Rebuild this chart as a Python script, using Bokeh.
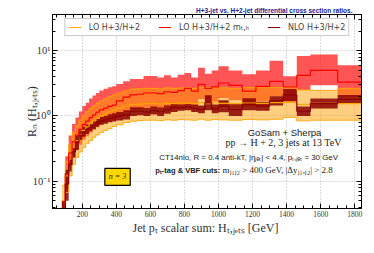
from bokeh.plotting import figure
from bokeh.models import FixedTicker, LinearAxis, LogAxis, Label, Legend, LegendItem
from bokeh.embed import file_html
from bokeh.resources import INLINE

# ---------------- data ----------------
edges = [80, 100, 120, 140, 160, 180, 200, 220, 240, 260, 280, 300, 325, 350, 375, 400,
         440, 480, 520, 560, 600, 640, 680, 720, 760, 800, 840, 880, 920, 960, 1000,
         1060, 1140, 1220, 1300, 1380, 1460, 1540, 1700, 1840]

# LO H+3/H+2
lo_lo = [0.028, 0.067, 0.12, 0.18, 0.23, 0.28, 0.33, 0.38, 0.42, 0.47, 0.51, 0.56, 0.6, 0.64, 0.69,
         0.73, 0.79, 0.83, 0.85, 0.86, 0.86, 0.85, 0.87, 0.86, 0.88, 0.87, 0.86, 0.89, 0.86, 0.88,
         0.87, 0.86, 0.88, 0.87, 0.89, 0.95, 0.84, 0.86, 0.86]
lo_c = [0.05, 0.12, 0.22, 0.33, 0.42, 0.51, 0.6, 0.68, 0.76, 0.84, 0.92, 1.0, 1.08, 1.16, 1.24,
        1.32, 1.42, 1.5, 1.52, 1.55, 1.55, 1.52, 1.56, 1.55, 1.58, 1.56, 1.55, 1.6, 1.55, 1.58,
        1.56, 1.55, 1.58, 1.56, 1.6, 1.62, 1.5, 1.56, 1.55]
lo_hi = [0.085, 0.2, 0.37, 0.56, 0.71, 0.87, 1.02, 1.16, 1.29, 1.43, 1.56, 1.7, 1.84, 1.97, 2.1,
         2.25, 2.42, 2.6, 2.62, 2.65, 2.65, 2.6, 2.7, 2.65, 2.7, 2.7, 2.65, 2.75, 2.7, 2.72,
         2.7, 2.65, 2.72, 2.7, 2.75, 2.75, 2.5, 2.47, 2.65]

# LO H+3/H+2 with m_T,h scale
mt_lo = [0.018, 0.075, 0.16, 0.23, 0.3, 0.36, 0.43, 0.49, 0.55, 0.61, 0.67, 0.73, 0.78, 0.82, 0.86,
         1.0, 1.15, 1.24, 1.26, 1.32, 1.32, 1.3, 1.38, 1.35, 1.44, 1.56, 1.41, 1.8, 1.56, 1.65,
         1.88, 1.74, 1.41, 1.68, 2.0, 1.64, 2.5, 2.95, 1.95]
mt_c = [0.03, 0.13, 0.27, 0.4, 0.51, 0.62, 0.74, 0.83, 0.94, 1.04, 1.14, 1.24, 1.32, 1.4, 1.47,
        1.7, 1.95, 2.1, 2.15, 2.25, 2.25, 2.2, 2.35, 2.3, 2.45, 2.65, 2.4, 3.06, 2.65, 2.8,
        3.2, 2.95, 2.4, 2.85, 3.4, 2.78, 4.2, 5.0, 3.3]
mt_hi = [0.05, 0.24, 0.5, 0.75, 0.95, 1.17, 1.42, 1.6, 1.85, 2.05, 2.25, 2.45, 2.62, 2.75, 2.85,
         3.1, 3.4, 3.7, 3.7, 4.1, 4.1, 3.9, 4.2, 3.9, 4.3, 4.55, 3.9, 5.5, 4.45, 5.0,
         5.8, 5.0, 4.35, 5.0, 7.0, 4.05, 8.3, 8.8, 6.0]

# NLO H+3/H+2
nlo_lo = [0.025, 0.05, 0.14, 0.23, 0.3, 0.43, 0.48, 0.53, 0.58, 0.63, 0.68, 0.73, 0.76, 0.8, 0.82,
          0.85, 0.88, 1.0, 1.02, 1.0, 1.05, 1.0, 1.08, 1.15, 1.2, 1.22, 1.15, 1.1, 1.22, 1.1,
          1.14, 1.0, 1.22, 1.2, 1.45, 1.7, 1.0, 1.3, 1.55]
nlo_c = [0.035, 0.09, 0.18, 0.28, 0.39, 0.5, 0.57, 0.62, 0.67, 0.72, 0.78, 0.83, 0.87, 0.92, 0.95,
         0.99, 1.04, 1.17, 1.18, 1.15, 1.21, 1.16, 1.25, 1.34, 1.34, 1.38, 1.31, 1.26, 1.59, 1.28,
         1.41, 1.25, 1.51, 1.41, 1.7, 2.1, 1.18, 1.55, 1.8]
nlo_hi = [0.05, 0.15, 0.23, 0.33, 0.5, 0.6, 0.68, 0.74, 0.78, 0.84, 0.9, 0.96, 1.0, 1.06, 1.1,
          1.15, 1.22, 1.36, 1.36, 1.32, 1.4, 1.35, 1.45, 1.56, 1.5, 1.56, 1.5, 1.45, 2.07, 1.5,
          1.74, 1.56, 1.87, 1.65, 2.0, 2.6, 1.4, 1.85, 2.1]

x_ticks = [200, 400, 600, 800, 1000, 1200, 1400, 1600, 1800]
y_ticks = [0.1, 1, 10]
y_tick_labels = ["10⁻¹", "10⁰", "10¹"]

legend_labels = ["LO H+3/H+2", "LO H+3/H+2 mₜ,ₕ", "NLO H+3/H+2"]


def step_xy(v):
    """Histogram outline built from the bin edges and bin values."""
    xs, ys = [], []
    for i, val in enumerate(v):
        xs += [edges[i], edges[i + 1]]
        ys += [val, val]
    return xs, ys


SERIF = "Liberation Serif"
SANS = "Liberation Sans"

p = figure(width=374, height=253, x_range=(25, 1840), y_range=(0.038, 36),
           y_axis_type="log", output_backend="svg", toolbar_location=None,
           min_border_left=52, min_border_right=13, min_border_top=14, min_border_bottom=45)
p.background_fill_color = "white"
p.border_fill_color = "white"
p.outline_line_color = "black"
p.outline_line_width = 1

# bands
for lo, hi, col, a in [(mt_lo, mt_hi, "#FF1A1A", 0.74),
                       (lo_lo, lo_hi, "#FFA000", 0.5),
                       (nlo_lo, nlo_hi, "#8B0000", 0.85)]:
    xs, y1 = step_xy(lo)
    _, y2 = step_xy(hi)
    p.varea(x=xs, y1=y1, y2=y2, fill_color=col, fill_alpha=a)

# LO band edges
for edge in (lo_lo, lo_hi):
    xs, ys = step_xy(edge)
    p.line(xs, ys, line_color="#FFA500", line_width=0.9)

# central lines
xs, ys = step_xy(lo_c)
l1 = p.line(xs, ys, line_color="#FFA500", line_width=1.2)
xs, ys = step_xy(mt_c)
l2 = p.line(xs, ys, line_color="#FF0000", line_width=1.2)
xs, ys = step_xy(nlo_c)
l3 = p.line(xs, ys, line_color="#8B0000", line_width=1.2)

legend = Legend(items=[LegendItem(label=legend_labels[0], renderers=[l1]),
                       LegendItem(label=legend_labels[1], renderers=[l2]),
                       LegendItem(label=legend_labels[2], renderers=[l3])],
                orientation="horizontal", location="top_center", margin=4,
                label_text_font="DejaVu Sans", label_text_font_size="8px",
                glyph_width=13, glyph_height=10, label_height=10, label_standoff=8,
                spacing=18, padding=3, border_line_color="#999999", border_line_width=0.8,
                background_fill_alpha=1.0)
p.add_layout(legend, "center")

# axes
x_minor = list(range(50, 1850, 50))
y_minor = [0.04, 0.05, 0.06, 0.07, 0.08, 0.09, 0.2, 0.3, 0.4, 0.5, 0.6, 0.7, 0.8, 0.9,
           2, 3, 4, 5, 6, 7, 8, 9, 20, 30]
xt = FixedTicker(ticks=x_ticks, minor_ticks=x_minor)
yt = FixedTicker(ticks=y_ticks, minor_ticks=y_minor)
bottom = p.below[0]
left = p.left[0]
bottom.ticker = xt
left.ticker = yt
overrides = {}
for t, l in zip(y_ticks, y_tick_labels):
    overrides[t] = l
    overrides[str(t)] = l
left.major_label_overrides = overrides

top = LinearAxis(ticker=xt)
right = LogAxis(ticker=yt)
p.add_layout(top, "above")
p.add_layout(right, "right")
for ax in [top, right]:
    ax.major_label_text_font_size = "1px"
    ax.major_label_text_alpha = 0
    ax.major_label_standoff = 0

for ax in [bottom, left, top, right]:
    ax.major_tick_in = 5
    ax.major_tick_out = 0
    ax.minor_tick_in = 3
    ax.minor_tick_out = 0
    ax.axis_line_color = "black"
    ax.major_tick_line_color = "black"
    ax.minor_tick_line_color = "black"
    ax.major_label_text_font = SERIF
    ax.major_label_text_color = "#333333"

bottom.major_label_text_font_size = "7.5px"
bottom.major_label_standoff = 2
left.major_label_text_font_size = "10.5px"
left.major_label_standoff = 2

bottom.axis_label = "Jet pₜ scalar sum:  Hₜ,ⱼₑₜₛ [GeV]"
bottom.axis_label_text_font = SERIF
bottom.axis_label_text_font_style = "normal"
bottom.axis_label_text_font_size = "12px"
bottom.axis_label_text_color = "#333333"
bottom.axis_label_standoff = 1
left.axis_label = "Rₙ (Hₜ,ⱼₑₜₛ)"
left.axis_label_text_font = SERIF
left.axis_label_text_font_style = "normal"
left.axis_label_text_font_size = "12px"
left.axis_label_text_color = "#333333"
left.axis_label_standoff = -9

# grid
p.xgrid.ticker = xt
p.xgrid.grid_line_color = "#aaaaaa"
p.xgrid.grid_line_dash = "1 2"
p.xgrid.grid_line_width = 0.8
p.ygrid.ticker = FixedTicker(ticks=y_ticks)
p.ygrid.grid_line_color = "#aaaaaa"
p.ygrid.grid_line_dash = "1 2"
p.ygrid.grid_line_width = 0.8

# title
p.title.text = "H+3-jet vs. H+2-jet differential cross section ratios."
p.title.align = "right"
p.title.offset = 9
p.title.standoff = 1
p.title.text_font = SANS
p.title.text_font_style = "bold"
p.title.text_font_size = "6.5px"
p.title.text_color = "#22228B"

# texts
p.add_layout(Label(x=1388, y=0.558, text="GoSam + Sherpa", text_font=SANS,
                   text_font_size="9.5px", text_color="#222222",
                   text_align="center", text_baseline="middle"))
p.add_layout(Label(x=1382, y=0.396, text="pp → H + 2, 3 jets at 13 TeV", text_font=SERIF,
                   text_font_size="10px", text_color="#222222",
                   text_align="center", text_baseline="middle"))
p.add_layout(Label(x=1177, y=0.233,
                   text="CT14nlo, R = 0.4 anti-kT, |ηⱼₑₜ| < 4.4, pₜ,ⱼₑₜ = 30 GeV",
                   text_font=SANS, text_font_size="7.9px", text_color="#222222",
                   text_align="center", text_baseline="middle"))
p.add_layout(Label(x=1010, y=0.146, text="pₜ-tag & VBF cuts:", text_font=SANS,
                   text_font_style="bold", text_font_size="7.5px", text_color="#222222",
                   text_align="right", text_baseline="middle"))
p.add_layout(Label(x=1024, y=0.146, text="mⱼ₁ⱼ₂ > 400 GeV, |Δyⱼ₁,ⱼ₂| > 2.8",
                   text_font=SERIF, text_font_size="9px", text_color="#222222",
                   text_align="left", text_baseline="middle"))
p.add_layout(Label(x=407, y=0.116, text="n = 3", text_font=SERIF, text_font_style="italic",
                   text_font_size="8px", text_color="#222222",
                   text_align="center", text_baseline="middle",
                   background_fill_color="#FFD700", border_line_color="black",
                   border_line_width=1.2, padding=4))

open("out.html", "w").write(file_html(p, INLINE))
